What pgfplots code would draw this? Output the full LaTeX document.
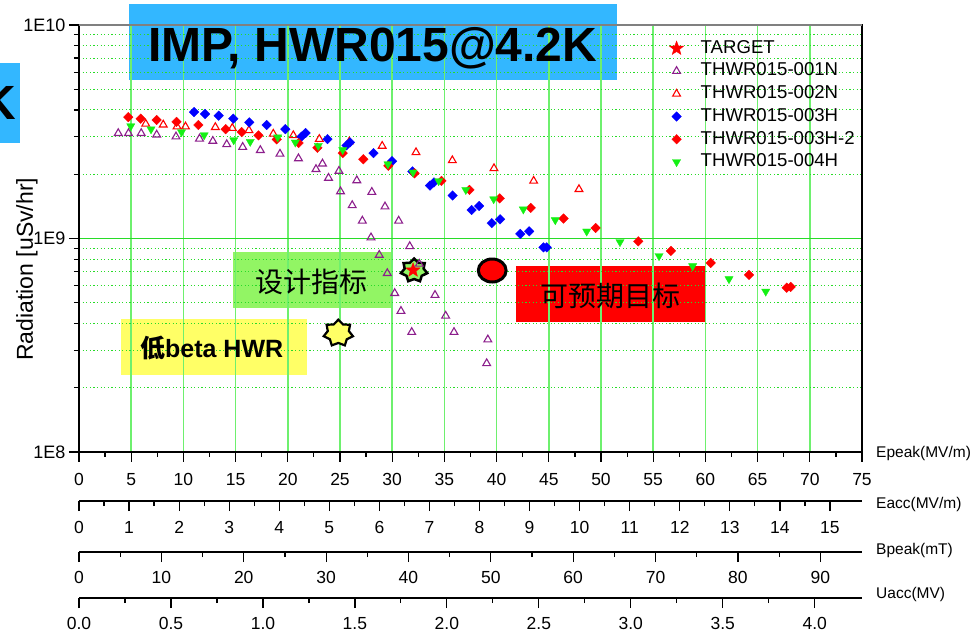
\documentclass[border=0pt]{standalone}
\usepackage{fontspec}
\setmainfont{Liberation Sans}
\newfontfamily\cjk{Noto Sans CJK SC}
\usepackage{pgfplots}
\pgfplotsset{compat=1.18}
\usetikzlibrary{plotmarks}

\definecolor{gridgreen}{RGB}{110,240,110}
\definecolor{gridgreenD}{RGB}{40,220,40}
\definecolor{titleblue}{RGB}{51,183,255}
\definecolor{boxgreen}{RGB}{146,245,100}
\definecolor{boxyellow}{RGB}{255,255,102}
\definecolor{purp}{RGB}{140,30,140}
\definecolor{mgreen}{RGB}{20,240,20}

\pgfdeclareplotmark{fstar}{%
 \pgfpathmoveto{\pgfpointpolar{90}{\pgfplotmarksize}}%
 \pgfpathlineto{\pgfpointpolar{126}{0.42\pgfplotmarksize}}%
 \pgfpathlineto{\pgfpointpolar{162}{\pgfplotmarksize}}%
 \pgfpathlineto{\pgfpointpolar{198}{0.42\pgfplotmarksize}}%
 \pgfpathlineto{\pgfpointpolar{234}{\pgfplotmarksize}}%
 \pgfpathlineto{\pgfpointpolar{270}{0.42\pgfplotmarksize}}%
 \pgfpathlineto{\pgfpointpolar{306}{\pgfplotmarksize}}%
 \pgfpathlineto{\pgfpointpolar{342}{0.42\pgfplotmarksize}}%
 \pgfpathlineto{\pgfpointpolar{18}{\pgfplotmarksize}}%
 \pgfpathlineto{\pgfpointpolar{54}{0.42\pgfplotmarksize}}%
 \pgfpathclose
 \pgfusepathqfillstroke}

\pgfdeclareplotmark{sevenstar}{%
 \pgfpathmoveto{\pgfpointpolar{90}{\pgfplotmarksize}}%
 \pgfpathlineto{\pgfpointpolar{115.71}{0.72\pgfplotmarksize}}%
 \pgfpathlineto{\pgfpointpolar{141.43}{\pgfplotmarksize}}%
 \pgfpathlineto{\pgfpointpolar{167.14}{0.72\pgfplotmarksize}}%
 \pgfpathlineto{\pgfpointpolar{192.86}{\pgfplotmarksize}}%
 \pgfpathlineto{\pgfpointpolar{218.57}{0.72\pgfplotmarksize}}%
 \pgfpathlineto{\pgfpointpolar{244.29}{\pgfplotmarksize}}%
 \pgfpathlineto{\pgfpointpolar{270}{0.72\pgfplotmarksize}}%
 \pgfpathlineto{\pgfpointpolar{295.71}{\pgfplotmarksize}}%
 \pgfpathlineto{\pgfpointpolar{321.43}{0.72\pgfplotmarksize}}%
 \pgfpathlineto{\pgfpointpolar{347.14}{\pgfplotmarksize}}%
 \pgfpathlineto{\pgfpointpolar{12.86}{0.72\pgfplotmarksize}}%
 \pgfpathlineto{\pgfpointpolar{38.57}{\pgfplotmarksize}}%
 \pgfpathlineto{\pgfpointpolar{64.29}{0.72\pgfplotmarksize}}%
 \pgfpathclose
 \pgfusepathqfillstroke}

\newcommand{\tickfont}{\fontsize{17.5}{20}\selectfont}
\newcommand{\labfont}{\fontsize{15.5}{18}\selectfont}

\pgfplotsset{
  botaxis/.style={
    at={(0pt,#1)}, anchor=south west, scale only axis, width=783pt, height=2pt,
    ymin=0, ymax=1, axis x line*=bottom, axis y line=none,
    x axis line style={-, line width=1.2pt, black},
    tick align=outside, tick pos=left,
    major tick length=10pt, minor tick length=5pt,
    tick style={black, line width=1.2pt},
    ticklabel style={font=\tickfont},
    /pgf/number format/assume math mode=true,
    xlabel style={font=\labfont, at={(axis description cs:1,0)}, anchor=west, inner sep=0pt, xshift=14pt},
    clip=false,
  }
}

\begin{document}
\begin{tikzpicture}
\useasboundingbox (-79pt,-183pt) rectangle (901pt,452pt);
% background boxes (grid drawn over them)
\fill[titleblue] (50pt,372pt) rectangle (538pt,448pt);
\fill[titleblue] (-90pt,309pt) rectangle (-59pt,389pt);
\fill[boxgreen] (154pt,144pt) rectangle (314pt,200pt);
\fill[boxyellow] (42pt,77pt) rectangle (228pt,133pt);
\fill[red] (437pt,130pt) rectangle (627pt,186pt);

\begin{axis}[
  at={(0pt,0pt)}, anchor=south west, scale only axis, width=783pt, height=427pt,
  xmin=0, xmax=75, ymin=1e8, ymax=1e10, ymode=log,
  xtick={0,5,...,75}, minor x tick num=1,
  ytick={1e8,1e9,1e10}, yticklabels={1E8,1E9,1E10},
  minor ytick={2e8,3e8,4e8,5e8,6e8,7e8,8e8,9e8,2e9,3e9,4e9,5e9,6e9,7e9,8e9,9e9},
  tick align=outside, tick pos=left,
  major tick length=10pt, minor tick length=5pt,
  tick style={black, line width=1.2pt},
  axis line style={black, line width=1.2pt},
  xmajorgrids=true, ymajorgrids=true, yminorgrids=true,
  major x grid style={gridgreen, line width=1.6pt},
  major y grid style={gridgreenD, line width=1.1pt},
  minor y grid style={gridgreenD, line width=1pt, dash pattern=on 1.2pt off 2.4pt},
  ticklabel style={font=\tickfont},
  yticklabel style={font=\fontsize{18}{20}\selectfont},
  /pgf/number format/assume math mode=true,
  xticklabel style={yshift=-8pt},
  xlabel={Epeak(MV/m)},
  xlabel style={font=\labfont, at={(axis description cs:1,0)}, anchor=west, inner sep=0pt, xshift=14pt, yshift=-1.5pt},
  ylabel={Radiation [uSv/hr]},
  ylabel style={font=\fontsize{23}{26}\selectfont, at={(axis description cs:-0.0664,0.428)}, anchor=center},
  legend style={at={(0.75,0.973)}, anchor=north west, draw=none, fill=none,
    font=\fontsize{18.6}{19}\selectfont, row sep=3.2pt,
    nodes={inner sep=1pt, text height=13.5pt, text depth=4pt},
    /tikz/every odd column/.append style={column sep=16pt}},
  legend cell align=left,
  clip=false,
]
% annotation shapes
\addplot[only marks, forget plot, mark=sevenstar, mark size=13.5pt,
  mark options={draw=black, fill=boxgreen, line width=2.5pt, yscale=0.88}]
  coordinates {(32.1,7.08e8)};
\addplot[only marks, forget plot, mark=sevenstar, mark size=15pt,
  mark options={draw=black, fill=boxyellow, line width=2.2pt, yscale=0.9}]
  coordinates {(24.84,3.60e8)};
\addplot[only marks, forget plot, mark=*, mark size=11.5pt,
  mark options={draw=black, fill=red, line width=3pt, xscale=1.21}]
  coordinates {(39.58,7.08e8)};

% TARGET
\addplot[only marks, mark=fstar, mark size=7.5pt, mark options={draw=red, fill=red, line width=0.3pt}]
  coordinates {(32.0,7.1e8)};
\addlegendentry{TARGET}

% THWR015-001N
\addplot[only marks, mark=triangle, mark size=4.5pt, mark options={draw=purp, line width=1.1pt}]
  coordinates {
(3.76,3.11e9) (4.74,3.11e9) (5.96,3.11e9) (7.44,3.06e9) (9.29,3.00e9)
(11.54,2.93e9) (12.82,2.86e9) (14.15,2.76e9) (15.68,2.68e9) (17.37,2.59e9)
(19.25,2.49e9) (21.02,2.37e9) (22.70,2.11e9) (23.32,2.24e9) (23.90,1.92e9)
(24.90,2.07e9) (25.05,1.66e9) (26.61,1.87e9) (26.17,1.43e9) (28.05,1.65e9)
(27.14,1.21e9) (29.31,1.41e9) (27.97,1.01e9) (30.62,1.21e9) (28.76,8.37e8)
(31.68,9.19e8) (29.53,6.87e8) (32.60,7.60e8) (30.24,5.54e8) (34.10,5.43e8)
(30.84,4.57e8) (35.12,4.34e8) (31.87,3.64e8) (35.92,3.64e8) (39.16,3.36e8)
(39.05,2.60e8)
};
\addlegendentry{THWR015-001N}

% THWR015-002N
\addplot[only marks, mark=triangle, mark size=4.5pt, mark options={draw=red, line width=1.1pt}]
  coordinates {
(6.39,3.44e9) (8.07,3.41e9) (9.39,3.34e9) (10.20,3.34e9) (13.06,3.32e9)
(14.68,3.29e9) (16.28,3.21e9) (18.61,3.09e9) (20.53,3.04e9) (23.02,2.92e9)
(25.89,2.84e9) (29.04,2.71e9) (32.28,2.53e9) (35.76,2.32e9) (39.75,2.13e9)
(43.55,1.86e9) (47.89,1.70e9)
};
\addlegendentry{THWR015-002N}

% THWR015-003H
\addplot[only marks, mark=square*, mark size=3.4pt, mark options={draw=blue, fill=blue, rotate=45, line width=0.3pt}]
  coordinates {
(11.02,3.91e9) (12.07,3.83e9) (13.38,3.76e9) (14.78,3.64e9) (16.31,3.50e9)
(17.98,3.40e9) (19.76,3.25e9) (21.31,3.00e9) (21.70,3.12e9) (23.80,2.92e9)
(25.62,2.73e9) (25.96,2.82e9) (28.21,2.51e9) (29.98,2.30e9) (31.94,2.06e9)
(33.62,1.77e9) (34.00,1.83e9) (35.79,1.59e9) (37.61,1.36e9) (38.33,1.42e9)
(39.53,1.18e9) (40.33,1.23e9) (42.27,1.05e9) (43.12,1.08e9) (44.49,9.09e8)
(44.80,9.09e8)
};
\addlegendentry{THWR015-003H}

% THWR015-003H-2
\addplot[only marks, mark=square*, mark size=3.4pt, mark options={draw=red, fill=red, rotate=45, line width=0.3pt}]
  coordinates {
(4.72,3.70e9) (5.91,3.64e9) (7.44,3.59e9) (9.34,3.52e9) (11.43,3.40e9)
(14.05,3.25e9) (15.58,3.15e9) (17.19,3.04e9) (18.94,2.91e9) (21.04,2.80e9)
(22.84,2.66e9) (25.26,2.51e9) (27.23,2.35e9) (29.63,2.19e9) (32.14,2.02e9)
(34.72,1.86e9) (37.40,1.69e9) (40.30,1.54e9) (43.27,1.39e9) (46.41,1.24e9)
(49.49,1.12e9) (53.57,9.70e8) (56.70,8.74e8) (60.51,7.68e8) (64.18,6.75e8)
(67.79,5.88e8) (68.17,5.93e8)
};
\addlegendentry{THWR015-003H-2}

% THWR015-004H
\addplot[only marks, mark=triangle*, mark size=4.8pt, mark options={draw=mgreen, fill=mgreen, rotate=180, line width=0.3pt}]
  coordinates {
(4.96,3.36e9) (6.90,3.25e9) (9.82,3.15e9) (11.99,3.05e9) (14.82,2.89e9)
(16.40,2.84e9) (19.03,2.98e9) (20.72,2.82e9) (22.92,2.72e9) (25.26,2.60e9)
(29.59,2.23e9) (31.99,2.04e9) (34.45,1.86e9) (37.05,1.69e9) (39.72,1.53e9)
(42.56,1.37e9) (45.62,1.22e9) (48.63,1.08e9) (51.82,9.63e8) (55.56,8.28e8)
(58.78,7.43e8) (62.26,6.46e8) (65.78,5.65e8)
};
\addlegendentry{THWR015-004H}

\draw[black!50, line width=1.4pt] (rel axis cs:0,1) -- (rel axis cs:1,1);
\end{axis}

% Eacc axis
\begin{axis}[botaxis={-49pt}, xmin=0, xmax=15.64, xtick={0,1,...,15}, minor x tick num=1,
  xlabel={Eacc(MV/m)}, xlabel style={yshift=-3pt}, xticklabel style={yshift=-7pt}]
\addplot[draw=none, mark=none] coordinates {(0,0)};
\end{axis}
% Bpeak axis
\begin{axis}[botaxis={-100pt}, xmin=0, xmax=95.06, xtick={0,10,...,90}, minor x tick num=1,
  xlabel={Bpeak(mT)}, xlabel style={yshift=2pt}, xticklabel style={yshift=-6pt}]
\addplot[draw=none, mark=none] coordinates {(0,0)};
\end{axis}
% Uacc axis
\begin{axis}[botaxis={-146pt}, xmin=0, xmax=4.257, xtick={0,0.5,...,4}, minor x tick num=1,
  xlabel={Uacc(MV)}, xlabel style={yshift=4pt},
  xticklabel style={yshift=-6pt, /pgf/number format/.cd, fixed, fixed zerofill, precision=1}]
\addplot[draw=none, mark=none] coordinates {(0,0)};
\end{axis}

% texts
\node[font=\fontsize{48}{50}\selectfont\bfseries, inner sep=0pt, anchor=base] at (294pt,390pt) {IMP, HWR015@4.2K};
\node[font=\fontsize{48}{50}\selectfont\bfseries, inner sep=0pt, anchor=base east] at (-63pt,332pt) {K};
\node[font=\fontsize{28}{30}\selectfont\cjk, inner sep=0pt] at (232pt,170.5pt) {设计指标};
\node[font=\fontsize{25}{28}\selectfont\bfseries, inner sep=0pt] at (132.7pt,104pt) {{\cjk 低}beta HWR};
\node[font=\fontsize{28}{30}\selectfont\cjk, inner sep=0pt] at (531.8pt,156pt) {可预期目标};
\end{tikzpicture}
\end{document}
